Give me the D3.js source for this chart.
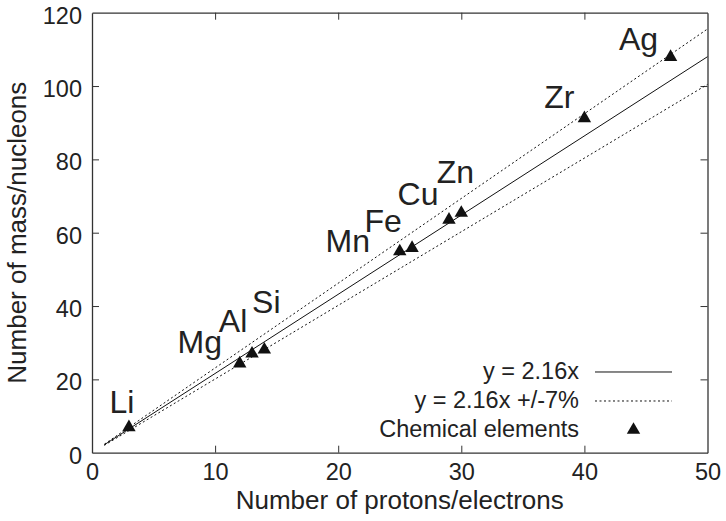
<!DOCTYPE html>
<html>
<head>
<meta charset="utf-8">
<script src="https://cdn.jsdelivr.net/npm/d3@7"></script>
<style>
  body { margin: 0; background: #fff; }
  text { font-family: "Liberation Sans", Arial, sans-serif; fill: #222; }
</style>
</head>
<body>
<div class="chart"></div>
<script>
// Data
var elements = ["Li", "Mg", "Al", "Si", "Mn", "Fe", "Cu", "Zn", "Zr", "Ag"];
var protons = [3, 12, 13, 14, 25, 26, 29, 30, 40, 47];
var nucleons = [6.94, 24.3, 27.0, 28.1, 54.9, 55.8, 63.5, 65.4, 91.2, 107.9];

var slope = 2.16;
var tolerance = 0.07;
var fitRange = [1, 50];

var xTicks = [0, 10, 20, 30, 40, 50];
var yTicks = [0, 20, 40, 60, 80, 100, 120];
var legendLabels = ["y = 2.16x", "y = 2.16x +/-7%", "Chemical elements"];

// Label offsets (px) from each marker
var labelOffsets = {
  Li: [-7, -14], Mg: [-40, -11], Al: [-19, -22], Si: [2, -37],
  Mn: [-52, 1], Fe: [-29, -16], Cu: [-31, -15], Zn: [-6, -30],
  Zr: [-25, -10], Ag: [-32, -7]
};

// Chart params
var svgWidth = 726;
var svgHeight = 521;
var margin = { top: 12.7, right: 18.5, bottom: 68.3, left: 92 };
var width = svgWidth - margin.left - margin.right;
var height = svgHeight - margin.top - margin.bottom;

var svg = d3.select(".chart")
  .append("svg")
  .attr("width", svgWidth)
  .attr("height", svgHeight);

var chartGroup = svg.append("g")
  .attr("transform", `translate(${margin.left}, ${margin.top})`);

// Scales
var xScale = d3.scaleLinear().domain([0, 50]).range([0, width]);
var yScale = d3.scaleLinear().domain([0, 120]).range([height, 0]);

// Axes with inward ticks on all four sides
var tickLen = 7;
var bottomAxis = d3.axisBottom(xScale).tickValues(xTicks).tickSizeInner(-tickLen).tickSizeOuter(0).tickPadding(10);
var topAxis = d3.axisTop(xScale).tickValues(xTicks).tickSizeInner(-tickLen).tickSizeOuter(0).tickFormat("");
var leftAxis = d3.axisLeft(yScale).tickValues(yTicks).tickSizeInner(-tickLen).tickSizeOuter(0).tickPadding(10);
var rightAxis = d3.axisRight(yScale).tickValues(yTicks).tickSizeInner(-tickLen).tickSizeOuter(0).tickFormat("");

function styleAxis(g) {
  g.select(".domain").attr("stroke", "#333").attr("stroke-width", 1.3);
  g.selectAll(".tick line").attr("stroke", "#333").attr("stroke-width", 1);
  g.selectAll(".tick text")
    .style("font-family", "Liberation Sans, Arial, sans-serif")
    .style("font-size", "23.5px")
    .attr("fill", "#222");
}

chartGroup.append("g")
  .attr("transform", `translate(0, ${height})`)
  .call(bottomAxis)
  .call(styleAxis)
  .selectAll(".tick text").attr("dy", "0.72em");

chartGroup.append("g").call(topAxis).call(styleAxis);

chartGroup.append("g")
  .call(leftAxis)
  .call(styleAxis)
  .selectAll(".tick text").attr("dy", "0.45em");

chartGroup.append("g")
  .attr("transform", `translate(${width}, 0)`)
  .call(rightAxis)
  .call(styleAxis);

// Hide corner ticks that sit on the frame
chartGroup.selectAll(".tick").filter(function(d) { return d === 0 || d === 50 || d === 120; })
  .select("line").attr("stroke", "none");

// Fit lines
var line = d3.line()
  .x(d => xScale(d[0]))
  .y(d => yScale(d[1]));

var fitLines = [
  { k: slope, dash: null },
  { k: slope * (1 + tolerance), dash: "2,2.5" },
  { k: slope * (1 - tolerance), dash: "2,2.5" }
];

chartGroup.selectAll(".fit")
  .data(fitLines)
  .enter()
  .append("path")
  .attr("class", "fit")
  .attr("d", f => line(fitRange.map(x => [x, f.k * x])))
  .attr("fill", "none")
  .attr("stroke", "#111")
  .attr("stroke-width", 1)
  .attr("stroke-dasharray", f => f.dash);

// Markers
var tri = d3.symbol().type(d3.symbolTriangle).size(78);

chartGroup.selectAll(".pt")
  .data(elements)
  .enter()
  .append("path")
  .attr("class", "pt")
  .attr("d", tri)
  .attr("transform", (d, i) => `translate(${xScale(protons[i])}, ${yScale(nucleons[i])})`)
  .attr("fill", "#111");

// Element labels
chartGroup.selectAll(".elabel")
  .data(elements)
  .enter()
  .append("text")
  .attr("class", "elabel")
  .attr("x", (d, i) => xScale(protons[i]) + labelOffsets[d][0])
  .attr("y", (d, i) => yScale(nucleons[i]) + labelOffsets[d][1])
  .attr("text-anchor", "middle")
  .style("font-size", "32px")
  .text(d => d);

// Legend
var legendX = 579 - margin.left;
var legendRows = [372, 401, 430].map(v => v - margin.top);
var sampleX = [595 - margin.left, 672 - margin.left];

var legend = chartGroup.append("g");
legendLabels.forEach(function(lab, i) {
  legend.append("text")
    .attr("x", legendX)
    .attr("y", legendRows[i] + 7)
    .attr("text-anchor", "end")
    .style("font-size", "23.5px")
    .text(lab);
});
legend.append("line")
  .attr("x1", sampleX[0]).attr("x2", sampleX[1])
  .attr("y1", legendRows[0]).attr("y2", legendRows[0])
  .attr("stroke", "#111").attr("stroke-width", 1);
legend.append("line")
  .attr("x1", sampleX[0]).attr("x2", sampleX[1])
  .attr("y1", legendRows[1]).attr("y2", legendRows[1])
  .attr("stroke", "#111").attr("stroke-width", 1)
  .attr("stroke-dasharray", "2,2.5");
legend.append("path")
  .attr("d", tri)
  .attr("transform", `translate(${(sampleX[0] + sampleX[1]) / 2}, ${legendRows[2]})`)
  .attr("fill", "#111");

// Axis titles
svg.append("text")
  .attr("x", margin.left + width / 2)
  .attr("y", 509)
  .attr("text-anchor", "middle")
  .style("font-size", "26px")
  .text("Number of protons/electrons");

svg.append("text")
  .attr("transform", `translate(26, ${margin.top + height / 2}) rotate(-90)`)
  .attr("text-anchor", "middle")
  .style("font-size", "26px")
  .text("Number of mass/nucleons");
</script>
</body>
</html>
